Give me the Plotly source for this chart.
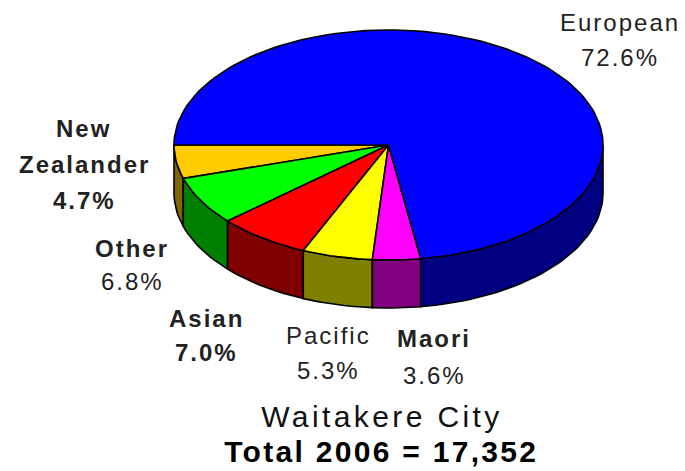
import numpy as np
import plotly.graph_objects as go

labels = ["New Zealander", "Other", "Asian", "Pacific", "Maori", "European"]
values = [4.7, 6.8, 7.0, 5.3, 3.6, 72.6]
top_colors = ["#FFCC00", "#00FF00", "#FF0000", "#FFFF00", "#FF00FF", "#0000FF"]
side_colors = ["#806600", "#008000", "#800000", "#808000", "#800080", "#000080"]
title_lines = ["Waitakere City", "Total 2006 = 17,352"]

CX, CY, RX, RY, DEPTH = 388.5, 145, 214.5, 115, 48
W, H = 685, 471


def arc(f0, f1, dy=0.0):
    n = max(2, int(abs(f1 - f0) * 180) + 2)
    t = np.radians(180 - 360 * np.linspace(f0, f1, n))
    return CX + RX * np.cos(t), CY + RY * np.sin(t) + dy


total = sum(values)
fractions = np.array(values) / total
starts = np.concatenate([[0], np.cumsum(fractions)[:-1]])
ends = np.cumsum(fractions)
ends[-1] = 1.0

fig = go.Figure()
OUT = dict(color="#000000", width=1.6)

# Side walls: only the front half of the disc shows
for s, e, c in zip(starts, ends, side_colors):
    if s >= 0.5:
        continue
    x0, y0 = arc(s, min(e, 0.5))
    x1, y1 = arc(s, min(e, 0.5), DEPTH)
    fig.add_trace(go.Scatter(
        x=np.concatenate([x0, x1[::-1], x0[:1]]),
        y=np.concatenate([y0, y1[::-1], y0[:1]]),
        mode="lines", fill="toself", fillcolor=c, line=OUT, hoverinfo="skip"))

# Top faces
for s, e, c, name in zip(starts, ends, top_colors, labels):
    x0, y0 = arc(s, e)
    fig.add_trace(go.Scatter(
        x=np.concatenate([[CX], x0, [CX]]),
        y=np.concatenate([[CY], y0, [CY]]),
        mode="lines", fill="toself", fillcolor=c, line=OUT,
        name=name, hoverinfo="name"))

FONT = "Liberation Sans"
placement = {
    "European": (620, 22, 35, 24, 400),
    "New Zealander": (84, 128, 36, 24, 700),
    "Other": (132, 248, 33, 24, 700),
    "Asian": (206, 318, 34, 24, 700),
    "Pacific": (328, 335, 35, 24, 400),
    "Maori": (434, 338, 37, 24, 700),
}
for name, v in zip(labels, values):
    px, py, gap, size, weight = placement[name]
    rows = name.split(" ") + [f"{v:.1f}%"]
    for i, row in enumerate(rows):
        fig.add_annotation(
            x=px, y=py + i * gap, text=row, showarrow=False,
            xanchor="center", yanchor="middle",
            font=dict(family=FONT, size=size, color="#222222",
                      weight=weight if i < len(rows) - 1 or name in ("New Zealander", "Asian") else 400))

fig.add_annotation(x=382, y=416, text=title_lines[0], showarrow=False,
                   font=dict(family=FONT, size=30, color="#111111"))
fig.add_annotation(x=381, y=451, text=title_lines[1], showarrow=False,
                   font=dict(family=FONT, size=30, color="#000000", weight=700))

fig.update_layout(
    width=W, height=H, margin=dict(l=0, r=0, t=0, b=0),
    paper_bgcolor="#FFFFFF", plot_bgcolor="#FFFFFF", showlegend=False,
    xaxis=dict(range=[0, W], visible=False, fixedrange=True),
    yaxis=dict(range=[H, 0], visible=False, fixedrange=True),
)
POST = """
document.body.style.margin = '0';
document.querySelectorAll('.annotation-text').forEach(function (t) {
  var big = parseFloat(t.style.fontSize) >= 28;
  var bold = String(t.style.fontWeight) === '700' || t.style.fontWeight === 'bold';
  t.style.letterSpacing = big ? (bold ? '2.3px' : '3.4px') : '2px';
});
"""
fig.write_html("out.html", post_script=POST, config={"displayModeBar": False})
